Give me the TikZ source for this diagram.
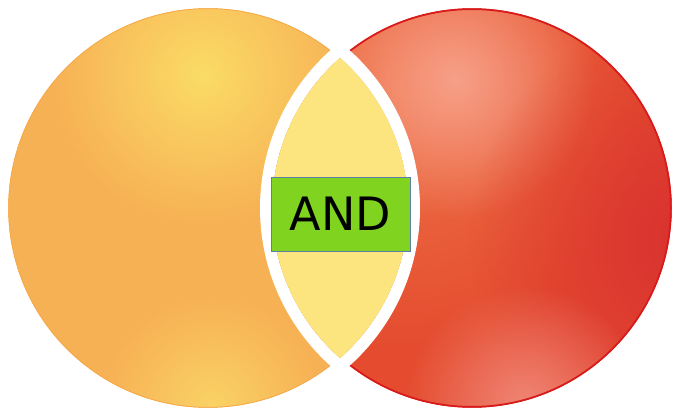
\documentclass[tikz,border=0pt]{standalone}
\usepackage{fontspec}
\newfontfamily\andfont{DejaVu Sans}
\usetikzlibrary{fadings}
\definecolor{leftbase}{HTML}{F7B155}
\definecolor{lefttop}{HTML}{FBDC66}
\definecolor{leftlow}{HTML}{FAD265}
\definecolor{leftedge}{HTML}{F5A845}
\definecolor{rightbase}{HTML}{E54C2F}
\definecolor{rightwarm}{HTML}{EF7448}
\definecolor{righttop}{HTML}{F7A089}
\definecolor{rightlow}{HTML}{F08676}
\definecolor{rightdark}{HTML}{D8302F}
\definecolor{rightedge}{HTML}{D91A1A}
\definecolor{lensfill}{HTML}{FCE57E}
\definecolor{andgreen}{HTML}{80D41F}
\definecolor{andline}{HTML}{5B7FA8}
\tikzfading[name=softglow,inner color=transparent!0,outer color=transparent!100]
\begin{document}
\begin{tikzpicture}[x=1pt,y=-1pt,
  ring/.style={draw=white,line width=12pt},
  glow/.style={path fading=softglow},
  andbox/.style={fill=andgreen,draw=andline,line width=0.8pt,
    minimum width=139pt,minimum height=74pt,inner sep=0pt,
    font=\andfont\fontsize{46}{46}\selectfont}]
\useasboundingbox (0,0) rectangle (674,412);
\coordinate (lc) at (208,208);
\coordinate (rc) at (472,208);
% left circle
\begin{scope}
\clip (lc) circle (200pt);
\fill[leftbase] (lc) circle (200pt);
\fill[lefttop,glow] (202,75) circle (150pt);
\fill[leftlow,glow] (212,405) circle (110pt);
\end{scope}
\draw[leftedge,line width=1pt] (lc) circle (199.5pt);
% right circle
\begin{scope}
\clip (rc) circle (200pt);
\fill[rightbase] (rc) circle (200pt);
\fill[rightwarm,glow] (400,90) circle (260pt);
\fill[righttop,glow] (455,80) circle (140pt);
\fill[rightdark,glow] (700,240) circle (230pt);
\fill[rightlow,glow] (525,405) circle (120pt);
\end{scope}
\draw[rightedge,line width=2pt] (rc) circle (199pt);
% white gaps and overlap
\draw[ring] (lc) circle (206pt);
\draw[ring] (rc) circle (206pt);
\begin{scope}
\clip (lc) circle (200pt);
\fill[lensfill] (rc) circle (200pt);
\end{scope}
\node[andbox] (andgate) at (340.5,214) {AND};
\end{tikzpicture}
\end{document}
